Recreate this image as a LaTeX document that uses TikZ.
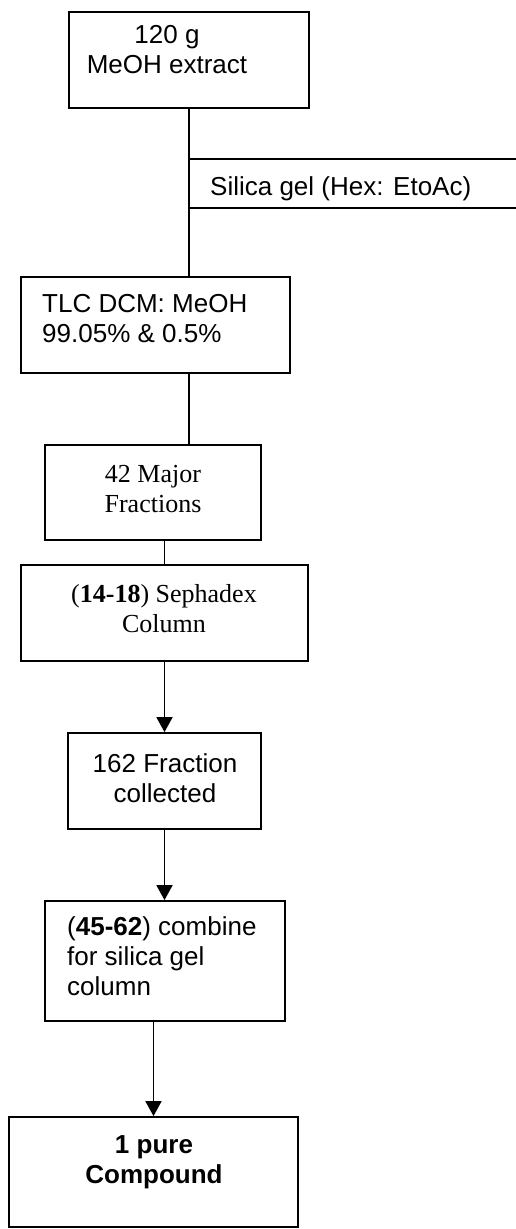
\documentclass[tikz,border=0pt]{standalone}
\usepackage{fontspec}
\setmainfont{Liberation Sans}
\newfontfamily\timesfont{Liberation Serif}
\usetikzlibrary{arrows.meta,positioning}

\begin{document}
\begin{tikzpicture}[x=1pt,y=-1pt,>={Triangle[length=15pt,width=16pt]},
    box/.style={draw,line width=1.8pt,inner sep=0pt},
    txt/.style={inner sep=0pt,font=\fontsize{26}{30}\selectfont},
    link/.style={line width=1.8pt}]
  \useasboundingbox (0,0) rectangle (516,1229);
  \node (b1) [box,minimum width=240pt,minimum height=96pt] at (189,60) {};
  \node (b2) [box,minimum width=269pt,minimum height=96pt] at (155.5,325) {};
  \node (b3) [box,minimum width=216pt,minimum height=95pt] at (153,492.5) {};
  \node (b4) [box,minimum width=287pt,minimum height=96pt] at (164.5,613) {};
  \node (b5) [box,minimum width=193pt,minimum height=96pt] at (164.5,781) {};
  \node (b6) [box,minimum width=240pt,minimum height=120pt] at (165,961) {};
  \node (b7) [box,minimum width=289pt,minimum height=110pt] at (153.5,1172) {};
  \node (t1) [txt,anchor=north,align=center] at (167,25) {120 g\\MeOH extract};
  \node (t2) [txt,anchor=north west,align=left] at (42,294) {TLC DCM: MeOH\\99.05\% \& 0.5\%};
  \node (t3) [txt,anchor=north,align=center,font=\timesfont\fontsize{26}{30}\selectfont] at (153,465) {42 Major\\Fractions};
  \node (t4) [txt,anchor=north,align=center,font=\timesfont\fontsize{26}{30}\selectfont] at (164,584) {(\textbf{14-18}) Sephadex\\Column};
  \node (t5) [txt,anchor=north,align=center] at (165,753) {162 Fraction\\collected};
  \node (t6) [txt,anchor=north west,align=left] at (67,916) {(\textbf{45-62}) combine\\for silica gel\\column};
  \node (t7) [txt,anchor=north,align=center,font=\bfseries\fontsize{26}{30}\selectfont] at (154,1135) {1 pure\\Compound};
  \coordinate (j1) at (189,159);
  \coordinate (e1) at (516,159);
  \coordinate (j2) at (189,208);
  \coordinate (e2) at (516,208);
  \node (silica) [txt,anchor=base west] at (210,195) {Silica gel (Hex: EtoAc)};
  \draw[link] (j1) -- (e1);
  \draw[link] (j2) -- (e2);
  \draw[link] (b1.south -| j1) -- (b2.north -| j1);
  \draw[link] (b2.south -| j1) -- (b3.north -| j1);
  \draw[link] (b3.south -| b4.north) -- (b4.north);
  \draw[link,->] (b4.south -| b5.north) -- (b5.north);
  \draw[link,->] (b5.south) -- (b6.north -| b5.south);
  \draw[link,->] (b6.south -| b7.north) -- (b7.north);
\end{tikzpicture}
\end{document}
